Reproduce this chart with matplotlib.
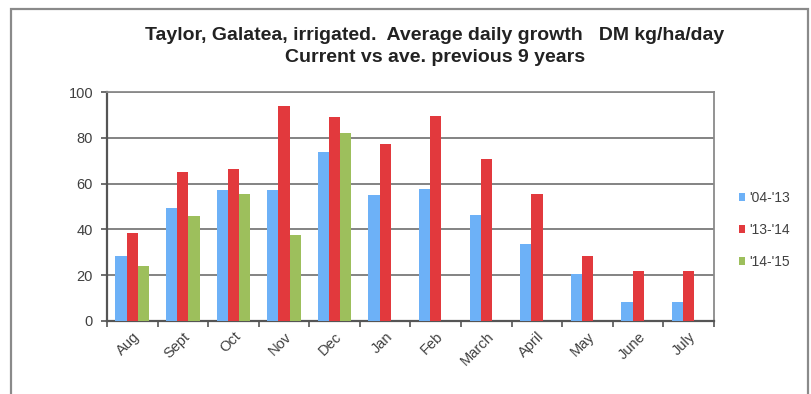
import numpy as np
import matplotlib.pyplot as plt
from matplotlib.patches import Rectangle

plt.rcParams['font.family'] = ['Liberation Sans', 'DejaVu Sans']

months = ['Aug', 'Sept', 'Oct', 'Nov', 'Dec', 'Jan', 'Feb', 'March',
          'April', 'May', 'June', 'July']
ave_04_13 = [28.3, 49.2, 57.0, 57.0, 73.6, 54.9, 57.8, 46.4, 33.5, 20.5, 8.3, 8.3]
season_13_14 = [38.4, 65.2, 66.5, 93.7, 88.9, 77.3, 89.6, 70.7, 55.6, 28.4, 21.8, 21.8]
season_14_15 = [24.0, 45.7, 55.6, 37.6, 82.3, np.nan, np.nan, np.nan, np.nan,
                np.nan, np.nan, np.nan]
series_names = ["'04-'13", "'13-'14", "'14-'15"]
colors = ['#6db1f7', '#e2393d', '#9dbf5c']

fig = plt.figure(figsize=(8.11, 3.94), dpi=100)
fig.patch.set_facecolor('white')

# outer chart frame
fig.add_artist(Rectangle((11 / 811, -0.05), 797 / 811, 1 - 9 / 394 + 0.05,
                         transform=fig.transFigure, fill=False,
                         edgecolor='#8a8a8a', linewidth=1.6))

ax = fig.add_axes([107 / 811, 1 - 321 / 394, 607 / 811, 229 / 394])

x = np.arange(len(months))
w = 1 / 4.5
handles = []
for i, (vals, name, c) in enumerate(zip([ave_04_13, season_13_14, season_14_15],
                                        series_names, colors)):
    h = ax.bar(x + 0.5 + (i - 1) * w, vals, width=w, color=c, label=name, zorder=3)
    handles.append(h)

ax.set_xlim(0, len(months))
ax.set_ylim(0, 100)
ax.set_yticks(range(0, 101, 20))
ax.yaxis.grid(True, color='#7a7a7a', linewidth=1.3, zorder=0)

ax.set_xticks(np.arange(len(months) + 1))
ax.set_xticklabels([])
ax.set_xticks(x + 0.5, minor=True)
ax.set_xticklabels(months, minor=True, rotation=45, ha='right',
                   rotation_mode='anchor', fontsize=10.5, color='#404040')
ax.tick_params(axis='x', which='minor', length=0, pad=6)
ax.tick_params(axis='x', which='major', direction='out', length=4,
               width=1.2, color='#555555')
ax.tick_params(axis='y', direction='out', length=4, width=1.2,
               color='#555555', labelsize=10.5, labelcolor='#404040', pad=6)

for side in ['left', 'bottom']:
    ax.spines[side].set_color('#555555')
    ax.spines[side].set_linewidth(1.6)
for side in ['top', 'right']:
    ax.spines[side].set_color('#8a8a8a')
    ax.spines[side].set_linewidth(1.3)

fig.text(435 / 811, 1 - 35 / 394,
         'Taylor, Galatea, irrigated.  Average daily growth   DM kg/ha/day',
         ha='center', va='center', fontsize=14, fontweight='bold',
         color='#222222')
fig.text(435 / 811, 1 - 58 / 394, 'Current vs ave. previous 9 years',
         ha='center', va='center', fontsize=14, fontweight='bold',
         color='#222222')

fig.legend(handles=handles, labels=series_names, loc='center left',
           bbox_to_anchor=(726 / 811, 1 - 230 / 394), frameon=False,
           fontsize=10, handlelength=0.5, handleheight=0.5, handletextpad=0.3,
           labelspacing=1.3, labelcolor='#404040')

fig.savefig('out.png', dpi=100)
